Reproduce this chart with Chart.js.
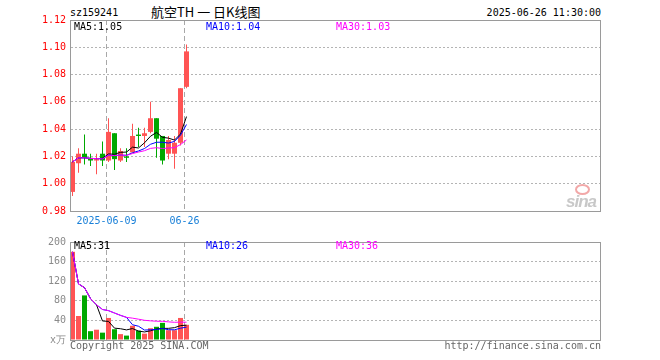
<!DOCTYPE html>
<html>
<head>
<meta charset="utf-8">
<script src="https://cdn.jsdelivr.net/npm/chart.js@4.4.1/dist/chart.umd.min.js"></script>
<style>
    body { margin: 0; background: #fff; width: 660px; height: 360px; position: relative; overflow: hidden;
           font-family: "DejaVu Sans Mono", monospace; font-size: 10px; }
    .t { position: absolute; white-space: pre; line-height: 12px; }
    canvas { position: absolute; left: 0; }
</style>
</head>
<body>
<div class="t" style="left:70px;top:7px;">sz159241</div>
<div class="t" style="left:151px;top:4px;font-family:'Noto Sans CJK SC';font-size:13px;line-height:16px;">航空TH 一 日K线图</div>
<div class="t" style="right:59px;top:7px;">2025-06-26 11:30:00</div>

<canvas id="kChart" width="660" height="232" style="top:0"></canvas>
<canvas id="volChart" width="660" height="128" style="top:232px"></canvas>

<div class="t" style="left:74px;top:21px;color:#000;">MA5:1.05</div>
<div class="t" style="left:206px;top:21px;color:#0000ff;">MA10:1.04</div>
<div class="t" style="left:336px;top:21px;color:#ff00ff;">MA30:1.03</div>

<div class="t" style="left:74px;top:240px;color:#000;">MA5:31</div>
<div class="t" style="left:206px;top:240px;color:#0000ff;">MA10:26</div>
<div class="t" style="left:336px;top:240px;color:#ff00ff;">MA30:36</div>

<div style="position:absolute;left:575px;top:184px;width:11px;height:7px;border:2px solid #f2a8a8;border-radius:50%;"></div>
<div class="t" style="left:566px;top:194px;font-family:'Liberation Sans';font-style:italic;font-weight:bold;font-size:17px;line-height:16px;color:#c8c8c8;letter-spacing:-1px;">sina</div>

<div class="t" style="left:70px;top:340px;color:#666;">Copyright 2025 SINA.COM</div>
<div class="t" style="right:59px;top:340px;color:#666;">http://finance.sina.com.cn</div>

<script>
// 交易日
const dates = ['2025-05-29', '2025-05-30', '2025-06-03', '2025-06-04', '2025-06-05', '2025-06-06',
    '2025-06-09', '2025-06-10', '2025-06-11', '2025-06-12', '2025-06-13', '2025-06-16',
    '2025-06-17', '2025-06-18', '2025-06-19', '2025-06-20', '2025-06-23', '2025-06-24',
    '2025-06-25', '2025-06-26'];

// K线数据
const openP  = [0.994, 1.015, 1.022, 1.019, 1.017, 1.022, 1.017, 1.037, 1.017, 1.020,
                1.023, 1.036, 1.035, 1.038, 1.048, 1.035, 1.022, 1.022, 1.030, 1.071];
const highP  = [1.020, 1.026, 1.036, 1.022, 1.022, 1.031, 1.048, 1.037, 1.026, 1.026,
                1.044, 1.041, 1.041, 1.060, 1.048, 1.035, 1.035, 1.035, 1.070, 1.102];
const lowP   = [0.991, 1.008, 1.014, 1.013, 1.007, 1.013, 1.016, 1.010, 1.016, 1.016,
                1.023, 1.027, 1.027, 1.037, 1.019, 1.014, 1.018, 1.011, 1.028, 1.070];
const closeP = [1.016, 1.022, 1.019, 1.017, 1.018, 1.017, 1.038, 1.018, 1.024, 1.019,
                1.035, 1.035, 1.037, 1.048, 1.033, 1.017, 1.032, 1.030, 1.070, 1.097];

// 均线
const ma5  = [1.016, 1.019, 1.019, 1.0185, 1.0184, 1.0186, 1.0218, 1.0216, 1.0230, 1.0232,
              1.0268, 1.0262, 1.0300, 1.0348, 1.0376, 1.0340, 1.0334, 1.0320, 1.0364, 1.0492];
const ma10 = [1.016, 1.019, 1.019, 1.0185, 1.0184, 1.0182, 1.0210, 1.0206, 1.0210, 1.0208,
              1.0227, 1.0240, 1.0258, 1.0289, 1.0304, 1.0304, 1.0298, 1.0310, 1.0356, 1.0434];
const ma30 = [1.016, 1.019, 1.019, 1.0185, 1.0184, 1.0182, 1.0210, 1.0206, 1.0210, 1.0208,
              1.0221, 1.0232, 1.0242, 1.0259, 1.0264, 1.0258, 1.0262, 1.0264, 1.0287, 1.0321];

// 成交量（万）
const volume  = [180, 49, 91, 18, 21, 15, 45, 22, 12, 9, 29, 19, 13, 24, 27, 35, 20, 20, 45, 31];
const volMa5  = [180, 114.5, 106.7, 84.5, 71.8, 38.8, 38, 24.2, 23, 20.6,
                 23.4, 18.2, 16.4, 18.8, 22.4, 23.6, 23.8, 25.2, 29.4, 30.2];
const volMa10 = [180, 114.5, 106.7, 84.5, 71.8, 62.3, 59.9, 55.1, 50.3, 46.2,
                 31.1, 28.1, 20.3, 20.9, 21.5, 23.5, 21.0, 20.8, 24.1, 26.3];
const volMa30 = [180, 114.5, 106.7, 84.5, 71.8, 62.3, 59.9, 55.1, 50.3, 46.2,
                 44.6, 42.5, 40.2, 39.1, 38.3, 38.1, 37.0, 36.1, 36.5, 36.3];

// 坐标轴
const dateTickIdx = [6, 19];
const dateTickText = ['2025-06-09', '06-26'];
const priceRange = [0.98, 1.12];
const priceStep = 0.02;
const volRange = [0, 200];
const volStep = 40;

const UP = '#ff5454';
const DOWN = '#00a800';
const FONT = { family: 'DejaVu Sans Mono', size: 10 };

// 6px 一根K线
const X_MIN = -0.4167;
const X_MAX = 87.9167;

const candleColors = closeP.map((c, i) => c >= openP[i] ? UP : DOWN);
const pts = arr => arr.map((v, i) => ({ x: i, y: v }));

// 图框
const frame = {
    id: 'frame',
    afterDraw(chart) {
        const { ctx, chartArea: a } = chart;
        ctx.save();
        ctx.strokeStyle = '#9a9a9a';
        ctx.lineWidth = 1;
        ctx.strokeRect(a.left + 0.5, a.top + 0.5, a.right - a.left, a.bottom - a.top);
        ctx.restore();
    }
};

function maLine(data, color, order) {
    return {
        type: 'line', data: pts(data), borderColor: color, borderWidth: 1,
        pointRadius: 0, tension: 0, order: order
    };
}

function xScale(showLabels, height) {
    return {
        type: 'linear', min: X_MIN, max: X_MAX, bounds: 'data', offset: false,
        afterBuildTicks: s => { s.ticks = dateTickIdx.map(i => ({ value: i - 0.33 })); },
        afterFit: s => { s.height = height; },
        ticks: {
            display: showLabels, autoSkip: false, maxRotation: 0, padding: 4,
            color: '#1a80d8', font: FONT,
            callback: (v, k) => dateTickText[k]
        },
        grid: { offset: false, color: '#a8a8a8', drawTicks: false },
        border: { dash: [5, 3], color: '#9a9a9a' }
    };
}

// 日K图
new Chart(document.getElementById('kChart'), {
    type: 'bar',
    data: {
        datasets: [
            maLine(ma30, '#ff00ff', 0),
            maLine(ma10, '#0000ff', 1),
            maLine(ma5, '#000000', 2),
            {
                data: openP.map((o, i) => ({ x: i, y: [o, closeP[i]] })),
                backgroundColor: candleColors, barThickness: 5, grouped: false,
                inflateAmount: 0, order: 3
            },
            {
                data: lowP.map((l, i) => ({ x: i, y: [l, highP[i]] })),
                backgroundColor: candleColors, barThickness: 1, grouped: false,
                inflateAmount: 0, order: 4
            }
        ]
    },
    options: {
        responsive: false,
        animation: false,
        layout: { padding: { top: 20, right: 60, left: 0, bottom: 0 } },
        plugins: { legend: { display: false }, tooltip: { enabled: false } },
        scales: {
            x: xScale(true, 21),
            y: {
                min: priceRange[0], max: priceRange[1],
                afterFit: s => { s.width = 70; },
                ticks: { stepSize: priceStep, padding: 4, color: '#ff0000', font: FONT,
                         callback: v => v.toFixed(2) },
                grid: { color: '#b4b4b4', drawTicks: false },
                border: { dash: [2, 2], color: '#9a9a9a' }
            }
        }
    },
    plugins: [frame]
});

// 成交量图
new Chart(document.getElementById('volChart'), {
    type: 'bar',
    data: {
        datasets: [
            maLine(volMa30, '#ff00ff', 0),
            maLine(volMa10, '#0000ff', 1),
            maLine(volMa5, '#000000', 2),
            {
                data: pts(volume),
                backgroundColor: candleColors, barThickness: 5, grouped: false,
                inflateAmount: 0, order: 3
            }
        ]
    },
    options: {
        responsive: false,
        animation: false,
        layout: { padding: { top: 8, right: 60, left: 0, bottom: 20 } },
        plugins: { legend: { display: false }, tooltip: { enabled: false } },
        scales: {
            x: xScale(false, 0),
            y: {
                min: volRange[0], max: volRange[1],
                afterFit: s => { s.width = 70; },
                ticks: { stepSize: volStep, padding: 4, color: '#8a8a8a', font: FONT,
                         callback: v => v === 0 ? 'x万' : v },
                grid: { color: '#b4b4b4', drawTicks: false },
                border: { dash: [2, 2], color: '#9a9a9a' }
            }
        }
    },
    plugins: [frame]
});
</script>
</body>
</html>
